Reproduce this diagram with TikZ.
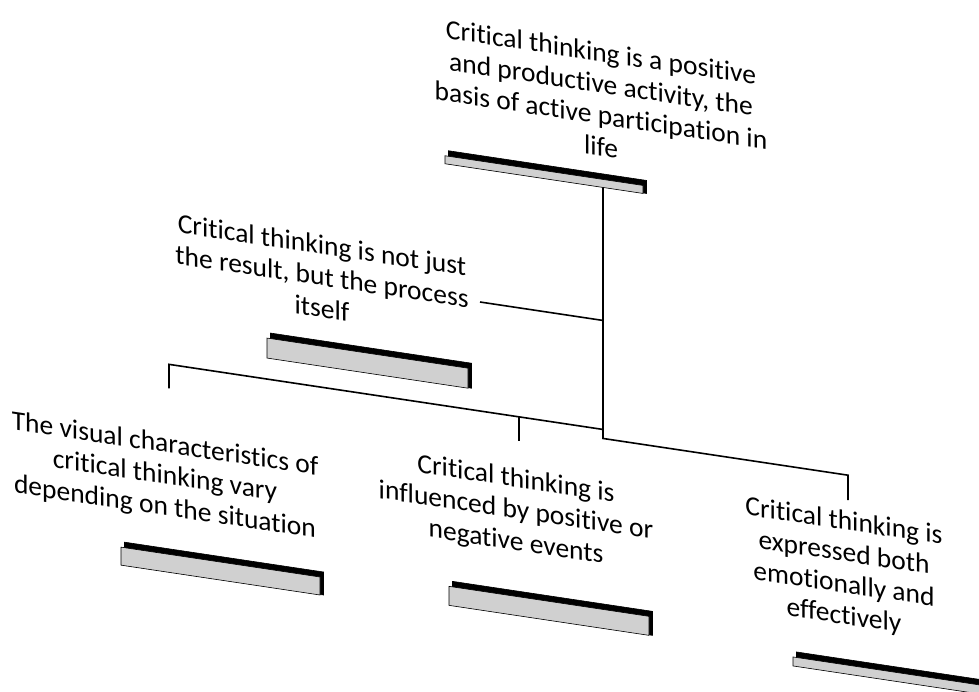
\documentclass[tikz,border=0pt]{standalone}
\usepackage{fontspec}
\setmainfont[Ligatures=NoCommon]{Carlito}
\usepackage{xcolor}
\definecolor{slab-gray}{HTML}{D0D0D0}
\usepackage{tikz}
\usetikzlibrary{shadows}
\tikzset{txt/.style = {align=center, inner sep=0pt, font=\fontsize{27.5}{31.5}\selectfont}}
\tikzset{slab/.style = {draw, fill=slab-gray, line width=.6pt, inner sep=0pt,
  copy shadow={shadow xshift=3.5pt, shadow yshift=0pt, fill=black, draw=black},
  copy shadow={shadow xshift=3.5pt, shadow yshift=5pt, fill=black, draw=black}}}
\tikzset{link/.style = {line width=1.6pt}}

\begin{document}
\begin{tikzpicture}[x=1pt, y=-1pt]

\clip (0,0) rectangle (979,691);

\begin{scope}[yslant=-0.15, transform shape]

\node[txt] (t0) at (601,9) {Critical thinking is a positive\\and productive activity, the\\basis of active participation in\\life};
\node[slab, minimum width=198pt, minimum height=8pt] (s0) at (544,93) {};

\node[txt] (t1) at (322,228) {Critical thinking is not just\\the result, but the process\\itself};
\node[slab, minimum width=201pt, minimum height=20pt] (s1) at (367.5,308) {};

\node[txt] (t2) at (165,452) {The visual characteristics of\\critical thinking vary\\depending on the situation};
\node[slab, minimum width=199pt, minimum height=18pt] (s2) at (220.5,538) {};

\node[txt] (t3) at (516,434) {Critical thinking is\\influenced by positive or\\negative events};
\node[slab, minimum width=200pt, minimum height=19pt] (s3) at (549,528.5) {};

\node[txt] (t4) at (844,443) {Critical thinking is\\expressed both\\emotionally and\\effectively};
\node[slab, minimum width=200pt, minimum height=9pt] (s4) at (893,542.5) {};

% junction points of the tree
\coordinate (j0) at (603,97);
\coordinate (j1) at (603,230);
\coordinate (j2) at (603,339);
\coordinate (j3) at (603,348);
\coordinate (j4) at (848,348);
\coordinate (j5) at (848,373);
\coordinate (j6) at (169,339);
\coordinate (j7) at (169,363);
\coordinate (j8) at (519,339);
\coordinate (j9) at (519,363);
\coordinate (c1) at (480,230);

\draw[link]  (j0) -- (j3) -- (j4) -- (j5);
\draw[link]  (j2) -- (j6) -- (j7);
\draw[link]  (j8) -- (j9);
\draw[link]  (c1) -- (j1);

\end{scope}
\end{tikzpicture}
\end{document}
